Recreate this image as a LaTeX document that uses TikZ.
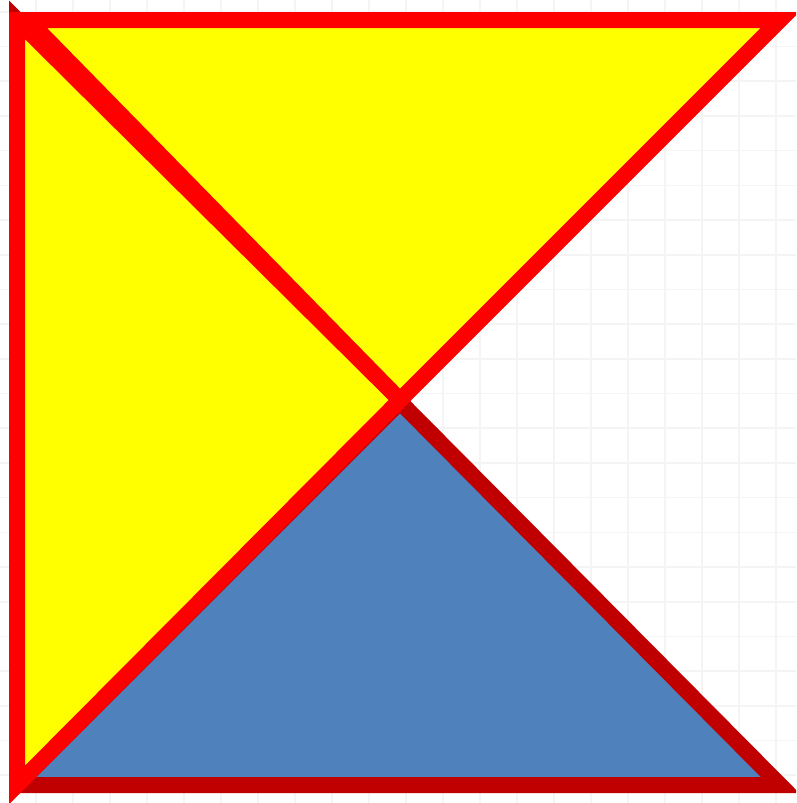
\documentclass[tikz,border=0pt]{standalone}
\definecolor{tri yellow}{HTML}{FFFF00}
\definecolor{tri red}{HTML}{FF0000}
\definecolor{tri darkred}{HTML}{C00000}
\definecolor{tri blue}{HTML}{4F81BD}
\definecolor{grid gray}{HTML}{F4F4F4}
\tikzset{
  gridline/.style={draw=grid gray, line width=1.6pt},
  yellowtri/.style={fill=tri yellow, draw=tri red, line width=16pt, line join=miter},
  bluetri/.style={fill=tri blue, draw=tri darkred, line width=16pt, line join=miter},
}
\begin{document}
\begin{tikzpicture}[x=1pt,y=-1pt]
  \useasboundingbox (0,0) rectangle (796,803);
  \begin{scope}
    \clip (0,0) rectangle (796,803);
    % faint background grid
    \foreach \k in {0,...,20} {
      \draw[gridline] ({36+37*\k},0) -- ({36+37*\k},803);
    }
    \foreach \k in {0,...,22} {
      \draw[gridline] (0,{11.8+34.7*\k}) -- (796,{11.8+34.7*\k});
    }
    % blue triangle (bottom)
    \coordinate (bl) at (17,785);
    \coordinate (br) at (780,785);
    \coordinate (c1) at (400,402);
    \path[bluetri] (bl) -- (br) -- (c1) -- (bl);
    % left yellow triangle
    \coordinate (lt) at (17,20);
    \coordinate (lb) at (17,785);
    \coordinate (c2) at (400,400);
    \path[yellowtri] (lt) -- (lb) -- (c2) -- cycle;
    \fill[tri darkred] (9,0.7) -- (9,12) -- (20.3,12) -- cycle;
    % top yellow triangle
    \coordinate (tl) at (28,20);
    \coordinate (tr) at (780,20);
    \coordinate (c3) at (400,400);
    \path[yellowtri] (tl) -- (tr) -- (c3) -- cycle;
  \end{scope}
\end{tikzpicture}
\end{document}
